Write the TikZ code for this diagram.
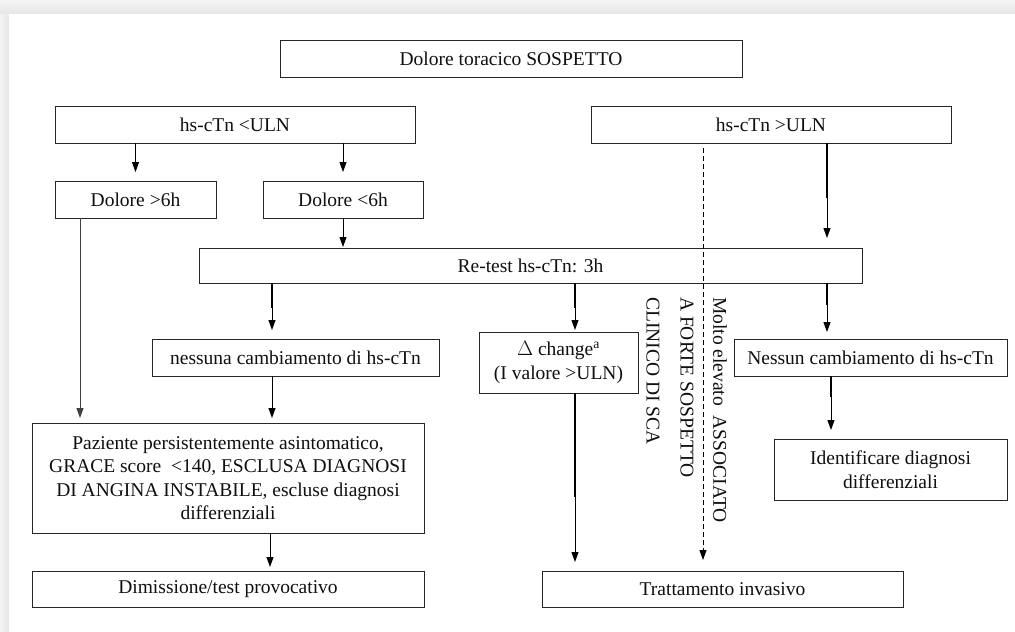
\documentclass[tikz,border=0pt]{standalone}
\usepackage{fontspec}
\setmainfont{Liberation Serif}
\usetikzlibrary{arrows.meta}
\definecolor{boxc}{HTML}{262626}
\definecolor{txtc}{HTML}{101010}
\definecolor{framec}{HTML}{E6E6E6}
\definecolor{framelt}{HTML}{F4F4F4}
\newcommand{\boxfont}{\fontsize{19.5pt}{23.5pt}\selectfont}
\begin{document}
\begin{tikzpicture}[x=1pt,y=-1pt,
  box/.style={draw=boxc, line width=0.9pt, inner sep=0pt, outer sep=0pt,
    align=center, font=\boxfont, text=txtc},
  arr/.style={draw=black, line width=0.9pt, -{Triangle[width=7pt,length=10pt]}},
  thk/.style={draw=black, line width=2.2pt},
  rot/.style={rotate=-90, anchor=west, inner sep=0pt, font=\boxfont, text=txtc}]
\useasboundingbox (0,0) rectangle (1015,632);

% page frame
\fill[framec] (0,0) rectangle (1015,632);
\shade[top color=framelt, bottom color=framec] (0,0) rectangle (1015,14);
\shade[left color=framelt, right color=framec] (0,14) rectangle (9,632);
\fill[white] (9,14) rectangle (1015,632);

% boxes
\node[box, minimum width=462pt, minimum height=37pt] (top) at (511,58.5) {Dolore toracico SOSPETTO};
\node[box, minimum width=360pt, minimum height=37pt] (lt) at (235,124.5) {hs-cTn <ULN};
\node[box, minimum width=360pt, minimum height=37pt] (rt) at (771,124.5) {hs-cTn >ULN};
\node[box, minimum width=161pt, minimum height=37pt] (d6g) at (135.5,199.5) {Dolore >6h};
\node[box, minimum width=160pt, minimum height=37pt] (d6l) at (343,199.5) {Dolore <6h};
\node[box, minimum width=663pt, minimum height=35pt] (retest) at (530.5,265.5) {Re-test hs-cTn: 3h};
\node[box, minimum width=287pt, minimum height=37pt] (nessuna) at (295.5,357.5) {nessuna cambiamento di hs-cTn};
\node[box, minimum width=159pt, minimum height=61pt] (delta) at (558.5,362.5) {$\Delta$ change\textsuperscript{a}\\(I valore >ULN)};
\node[box, minimum width=273pt, minimum height=37pt] (nessun) at (870.5,357.5) {Nessun cambiamento di hs-cTn};
\node[box, minimum width=233pt, minimum height=61pt] (ident) at (890.5,469.5) {Identificare diagnosi\\differenziali};
\node[box, minimum width=392pt, minimum height=110pt] (paz) at (228,478) {Paziente persistentemente asintomatico,\\GRACE score~ <140, ESCLUSA DIAGNOSI\\DI ANGINA INSTABILE, escluse diagnosi\\differenziali};
\node[box, minimum width=392pt, minimum height=36pt] (dim) at (228,589) {Dimissione/test provocativo};
\node[box, minimum width=361pt, minimum height=36pt] (tratt) at (722.5,589) {Trattamento invasivo};

% vertical labels beside the dashed path
\node[rot] (v1) at (720,297) {Molto elevato~ ASSOCIATO};
\node[rot] (v2) at (687,297) {A FORTE SOSPETTO};
\node[rot] (v3) at (653,297) {CLINICO DI SCA};

% column positions of the connectors
\coordinate (colR) at ([xshift=56pt]rt.south);
\coordinate (nx) at ([xshift=-23.5pt]nessuna.north);
\coordinate (dx) at ([xshift=16.5pt]delta.north);
\coordinate (ix) at ([xshift=-59.5pt]ident.north);
\coordinate (gx) at ([xshift=-55.5pt]d6g.south);
\coordinate (px) at ([xshift=42pt]paz.south);
\coordinate (sx) at ([xshift=-68pt]rt.south);

% connectors
\draw[arr, shorten >=9pt] (lt.south -| d6g) -- (d6g.north);
\draw[arr, shorten >=9pt] (lt.south -| d6l) -- (d6l.north);
\draw[arr, shorten >=1pt] (d6l.south) -- (d6l.south |- retest.north);
\draw[arr, shorten >=10pt] (colR) -- (colR |- retest.north);
\draw[thk] (colR) -- ++(0,55);

\draw[arr, shorten >=9pt] (nx |- retest.south) -- (nx);
\draw[thk] (nx |- retest.south) -- ++(0,25);
\draw[arr, shorten >=2pt] (dx |- retest.south) -- (dx);
\draw[thk] (dx |- retest.south) -- ++(0,25);
\draw[arr, shorten >=7pt] (colR |- retest.south) -- (colR |- nessun.north);
\draw[thk] (colR |- retest.south) -- ++(0,22);

\draw[arr, shorten >=9pt] (ix |- nessun.south) -- (ix);
\draw[thk] (ix |- nessun.south) -- ++(0,21);

\draw[arr, draw=black!75, shorten >=5pt] (gx) -- (gx |- paz.north);
\draw[arr, shorten >=5pt] (nx |- nessuna.south) -- (nx |- paz.north);
\draw[arr, shorten >=4pt] (px) -- (px |- dim.north);

\draw[arr, shorten >=9pt] (dx |- delta.south) -- (dx |- tratt.north);
\draw[thk] (dx |- delta.south) -- ++(0,104);

\draw[arr, dash pattern=on 5pt off 3pt, shorten <=5pt, shorten >=11pt] (sx) -- (sx |- tratt.north);
\end{tikzpicture}
\end{document}
